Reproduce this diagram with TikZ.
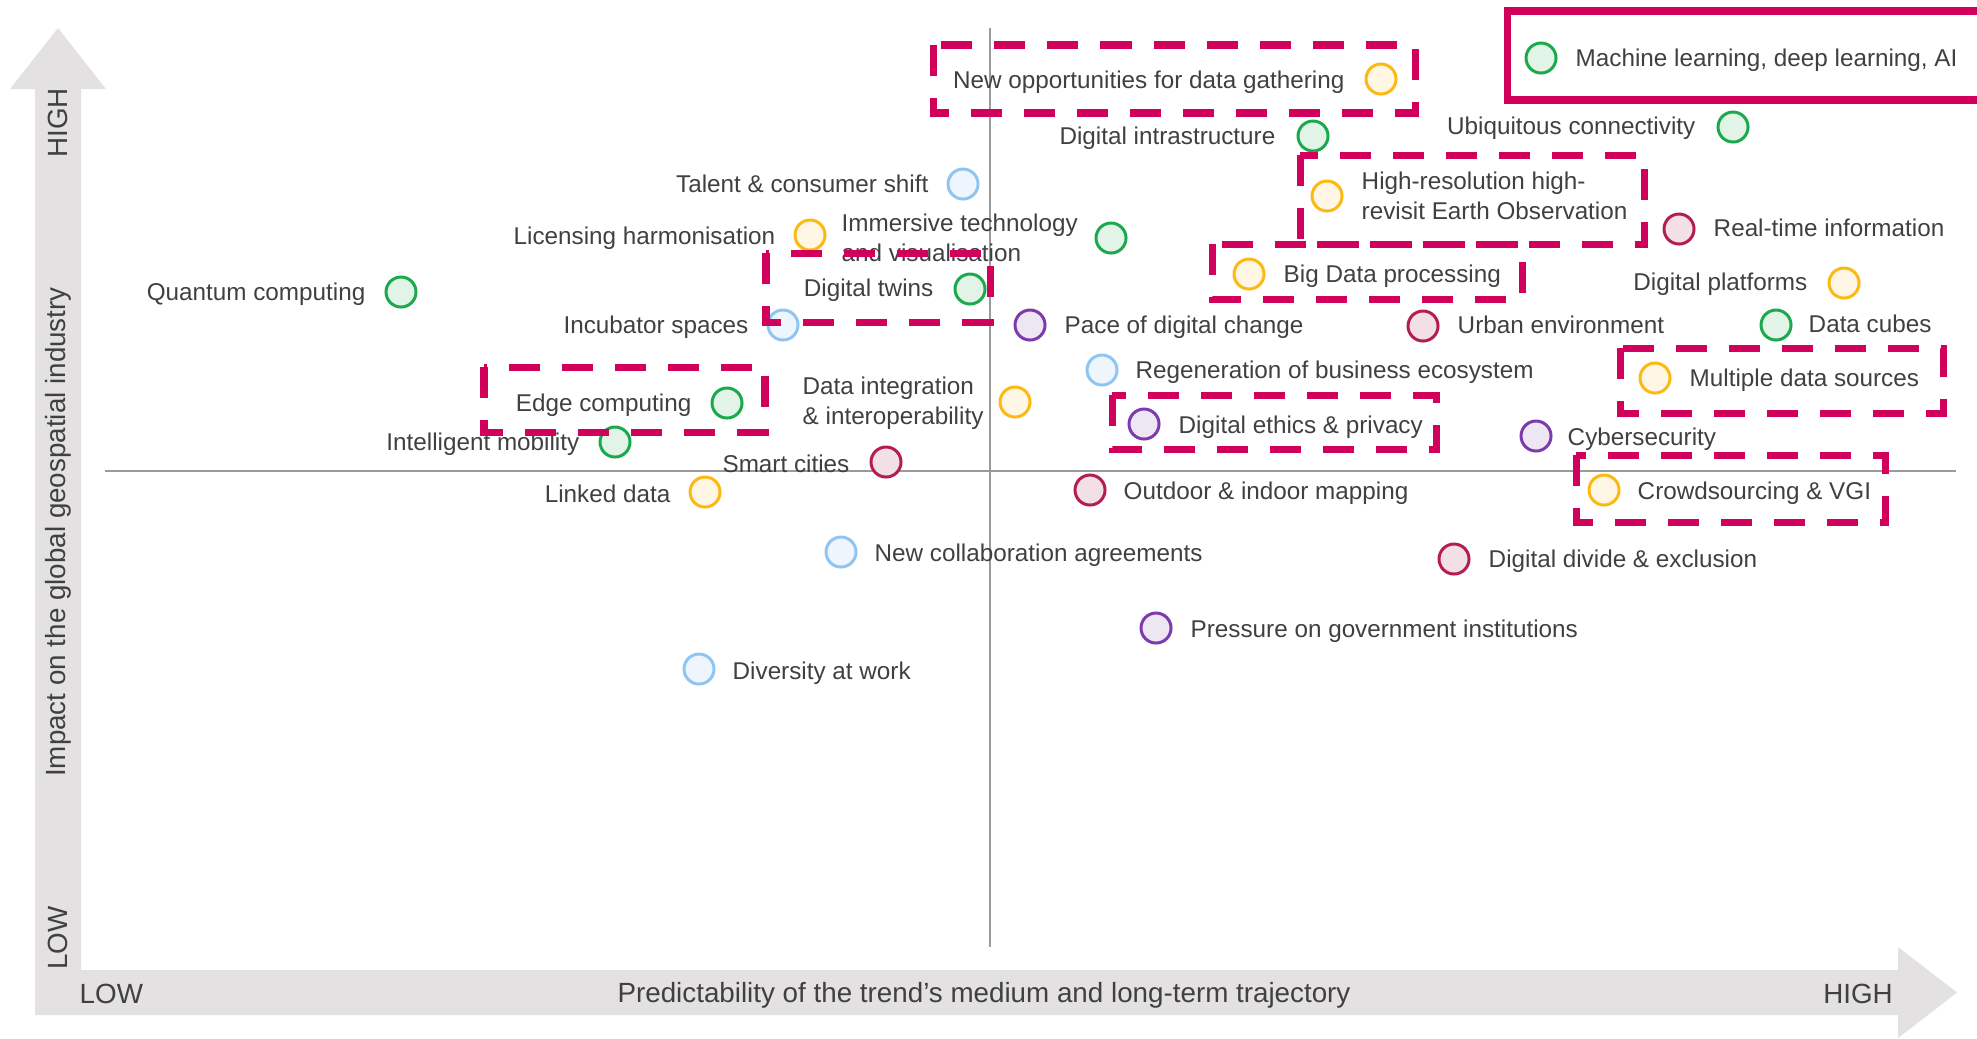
\documentclass[tikz,border=0pt]{standalone}
\usepackage{fontspec}
\setmainfont{Liberation Sans}
\definecolor{cgreen}{HTML}{1BA94C}
\definecolor{cgreenl}{HTML}{E2F3E7}
\definecolor{cyel}{HTML}{FDB913}
\definecolor{cyell}{HTML}{FFF6E3}
\definecolor{cblue}{HTML}{8EC5F2}
\definecolor{cbluel}{HTML}{EEF5FD}
\definecolor{cpur}{HTML}{7D3AAE}
\definecolor{cpurl}{HTML}{EDE6F3}
\definecolor{cred}{HTML}{B31E4E}
\definecolor{credl}{HTML}{F3E0E6}
\definecolor{hlc}{HTML}{D1005A}
\definecolor{txt}{HTML}{404040}
\definecolor{axtxt}{HTML}{404040}
\definecolor{axgray}{HTML}{9A9A9A}
\definecolor{barfill}{HTML}{E3E1E2}
\newcommand\labfont{\fontsize{6.9}{8.5}\selectfont}
\newcommand\axisfont{\fontsize{7.9}{9}\selectfont}
\tikzset{
  dot/.style={circle, inner sep=0pt, minimum size=0.3cm, line width=0.85pt},
  gdot/.style={dot, draw=cgreen, fill=cgreenl},
  ydot/.style={dot, draw=cyel, fill=cyell},
  bdot/.style={dot, draw=cblue, fill=cbluel},
  pdot/.style={dot, draw=cpur, fill=cpurl},
  rdot/.style={dot, draw=cred, fill=credl},
  lab/.style={inner sep=0pt, text=txt, font=\labfont, yshift=0.6pt},
  labl/.style={lab, anchor=mid west},
  labr/.style={lab, anchor=mid east},
  labm/.style={lab, align=left, anchor=west},
  hlbox/.style={draw=hlc, line width=2pt, dash pattern=on 0.31cm off 0.22cm},
  hlsolid/.style={draw=hlc, line width=2pt},
  axtext/.style={inner sep=0pt, text=axtxt, font=\axisfont},
  axline/.style={draw=axgray, line width=0.6pt}
}
\begin{document}
\begin{tikzpicture}[x=0.01cm,y=-0.01cm]
\useasboundingbox (0,0) rectangle (1977,1038);
% gray axis arrows
\fill[barfill] (35,1015) -- (35,89) -- (10,89) -- (58,28) -- (106,89) -- (81,89)
  -- (81,970) -- (1898,970) -- (1898,947) -- (1957,992.5) -- (1898,1038) -- (1898,1015) -- cycle;
\node[axtext, rotate=90] (yhigh) at (58,123) {HIGH};
\node[axtext, rotate=90] (ytitle) at (58,532) {Impact on the global geospatial industry};
\node[axtext, rotate=90] (ylow) at (58,938) {LOW};
\node[axtext, anchor=mid west] (xlow) at (79,994) {LOW};
\node[axtext] (xtitle) at (984,995) {Predictability of the trend’s medium and long-term trajectory};
\node[axtext] (xhigh) at (1858,994) {HIGH};
% cross lines
\coordinate (vtop) at (990,28);
\coordinate (vbot) at (990,947);
\coordinate (hleft) at (105,471);
\coordinate (hright) at (1956,471);
\draw[axline] (vtop) -- (vbot);
\draw[axline] (hleft) -- (hright);
% green
\node[gdot] (c1) at (1541,58) {};
\node[labl] (l1) at (1575,59) {Machine learning, deep learning, AI};
\node[gdot] (c2) at (1313,136) {};
\node[labr] (l2) at (1276,137) {Digital intrastructure};
\node[gdot] (c3) at (1733,127) {};
\node[labr] (l3) at (1696,127) {Ubiquitous connectivity};
\node[gdot] (c4) at (1111,238) {};
\node[labm] (l4) at (841,240) {Immersive technology\\and visualisation};
\node[gdot] (c5) at (401,292) {};
\node[labr] (l5) at (366,293) {Quantum computing};
\node[gdot] (c6) at (970,289) {};
\node[labr] (l6) at (934,289) {Digital twins};
\node[gdot] (c7) at (1776,325) {};
\node[labl] (l7) at (1808,325) {Data cubes};
\node[gdot] (c8) at (727,403) {};
\node[labr] (l8) at (692,404) {Edge computing};
\node[gdot] (c9) at (615,442) {};
\node[labr] (l9) at (580,443) {Intelligent mobility};
% yellow
\node[ydot] (c10) at (1381,79) {};
\node[labr] (l10) at (1345,81) {New opportunities for data gathering};
\node[ydot] (c11) at (1327,196) {};
\node[labm] (l11) at (1361,198) {High-resolution high-\\revisit Earth Observation};
\node[ydot] (c12) at (810,235) {};
\node[labr] (l12) at (776,237) {Licensing harmonisation};
\node[ydot] (c13) at (1249,274) {};
\node[labl] (l13) at (1283,275) {Big Data processing};
\node[ydot] (c14) at (1844,283) {};
\node[labr] (l14) at (1808,283) {Digital platforms};
\node[ydot] (c15) at (1655,378) {};
\node[labl] (l15) at (1689,379) {Multiple data sources};
\node[ydot] (c16) at (1015,402) {};
\node[labm] (l16) at (802,405) {Data integration\\\& interoperability};
\node[ydot] (c17) at (705,492) {};
\node[labr] (l17) at (671,495) {Linked data};
\node[ydot] (c18) at (1604,490) {};
\node[labl] (l18) at (1637,492) {Crowdsourcing \& VGI};
% blue
\node[bdot] (c19) at (963,184) {};
\node[labr] (l19) at (929,185) {Talent \& consumer shift};
\node[bdot] (c20) at (783,325) {};
\node[labr] (l20) at (749,326) {Incubator spaces};
\node[bdot] (c21) at (1102,370) {};
\node[labl] (l21) at (1135,371) {Regeneration of business ecosystem};
\node[bdot] (c22) at (841,552) {};
\node[labl] (l22) at (874,554) {New collaboration agreements};
\node[bdot] (c23) at (699,669) {};
\node[labl] (l23) at (732,672) {Diversity at work};
% purple
\node[pdot] (c24) at (1030,325) {};
\node[labl] (l24) at (1064,326) {Pace of digital change};
\node[pdot] (c25) at (1144,424) {};
\node[labl] (l25) at (1178,426) {Digital ethics \& privacy};
\node[pdot] (c26) at (1536,436) {};
\node[labl] (l26) at (1567,438) {Cybersecurity};
\node[pdot] (c27) at (1156,628) {};
\node[labl] (l27) at (1190,630) {Pressure on government institutions};
% crimson
\node[rdot] (c28) at (1679,229) {};
\node[labl] (l28) at (1713,229) {Real-time information};
\node[rdot] (c29) at (1423,326) {};
\node[labl] (l29) at (1457,326) {Urban environment};
\node[rdot] (c30) at (886,462) {};
\node[labr] (l30) at (850,465) {Smart cities};
\node[rdot] (c31) at (1090,490) {};
\node[labl] (l31) at (1123,492) {Outdoor \& indoor mapping};
\node[rdot] (c32) at (1454,559) {};
\node[labl] (l32) at (1488,560) {Digital divide \& exclusion};
% highlight boxes
\draw[hlsolid] (1995,11) -- (1507,11) -- (1507,100) -- (1995,100);
\draw[hlbox] (933,45) rectangle (1415,113);
\draw[hlbox] (1300,155) rectangle (1644,244);
\draw[hlbox] (1212,244) rectangle (1522,299);
\draw[hlbox] (766,253) rectangle (990,322);
\draw[hlbox] (1620,348) rectangle (1943,413);
\draw[hlbox] (484,367) rectangle (765,432);
\draw[hlbox] (1112,395) rectangle (1436,449);
\draw[hlbox] (1576,455) rectangle (1885,522);
\end{tikzpicture}
\end{document}
